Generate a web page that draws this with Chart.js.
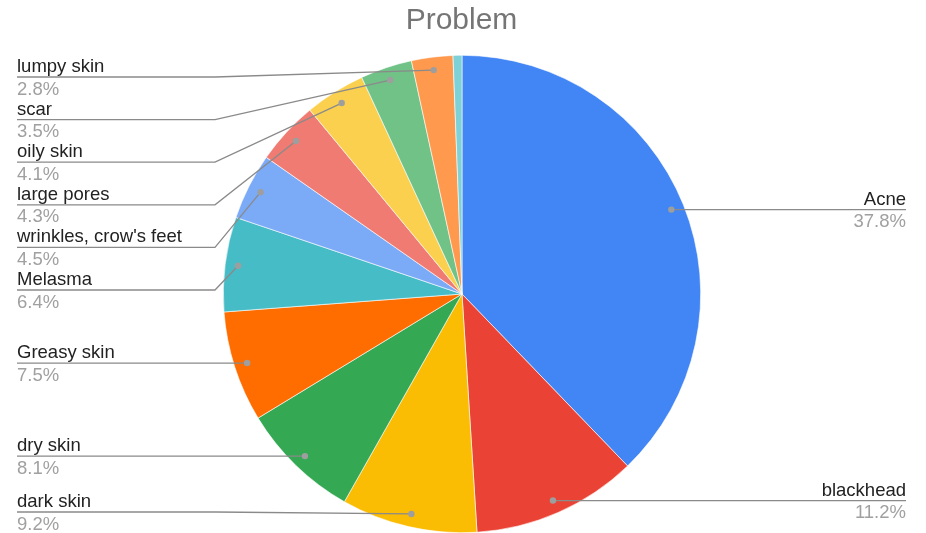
<!DOCTYPE html>
<html>
<head>
<meta charset="utf-8">
<script src="https://cdn.jsdelivr.net/npm/chart.js@4/dist/chart.umd.min.js"></script>
<style>
  html, body { margin: 0; padding: 0; background: #ffffff; }
  #wrap { width: 926px; height: 533px; position: relative; }
</style>
</head>
<body>
<div id="wrap"><canvas id="c" width="926" height="533"></canvas></div>
<script>
const categories = ["Acne", "blackhead", "dark skin", "dry skin", "Greasy skin", "Melasma",
  "wrinkles, crow's feet", "large pores", "oily skin", "scar", "lumpy skin", "other"];
const values = [37.8, 11.2, 9.2, 8.1, 7.5, 6.4, 4.5, 4.3, 4.1, 3.5, 2.8, 0.6];
const percentLabels = ["37.8%", "11.2%", "9.2%", "8.1%", "7.5%", "6.4%", "4.5%", "4.3%", "4.1%", "3.5%", "2.8%", ""];
const colors = ["#4285F4", "#EA4335", "#FBBC04", "#34A853", "#FF6D01", "#46BDC6",
  "#7BAAF7", "#F07B72", "#FCD04F", "#71C287", "#FF994D", "#7ED1D7"];
const chartTitle = "Problem";

const FONT = "'Liberation Sans', Arial, sans-serif";

const labelPlugin = {
  id: 'sideLabels',
  afterDraw(chart) {
    const ctx = chart.ctx;
    const meta = chart.getDatasetMeta(0);
    // title
    ctx.save();
    ctx.fillStyle = '#757575';
    ctx.font = '30px ' + FONT;
    ctx.textAlign = 'center';
    ctx.textBaseline = 'alphabetic';
    ctx.fillText(chartTitle, 461.5, 29);

    const left = [], right = [];
    meta.data.forEach((arc, i) => {
      if (!percentLabels[i]) return;
      const p = arc.getProps(['x', 'y', 'startAngle', 'endAngle', 'outerRadius'], true);
      const mid = (p.startAngle + p.endAngle) / 2;
      const r = p.outerRadius - 13;
      const ax = p.x + Math.cos(mid) * r;
      const ay = p.y + Math.sin(mid) * r;
      const item = { i, ax, ay };
      if (ax < p.x) left.push(item); else right.push(item);
    });

    function place(list, minY, maxY, gap) {
      list.sort((a, b) => a.ay - b.ay);
      let prev = -Infinity;
      list.forEach(it => {
        it.ly = Math.max(it.ay, prev + gap, minY);
        prev = it.ly;
      });
      let next = Infinity;
      for (let k = list.length - 1; k >= 0; k--) {
        const it = list[k];
        it.ly = Math.min(it.ly, maxY, next - gap);
        next = it.ly;
      }
    }
    place(left, 77, 512, 42.6);
    place(right, 77, 512, 42.6);

    const drawItem = (it, side) => {
      const textX = side === 'left' ? 17 : 906;
      const bendX = side === 'left' ? 215 : 712;
      ctx.strokeStyle = '#8a8a8a';
      ctx.lineWidth = 1.3;
      ctx.beginPath();
      ctx.moveTo(textX, it.ly);
      if (Math.abs(it.ly - it.ay) > 0.5) {
        ctx.lineTo(bendX, it.ly);
      }
      ctx.lineTo(it.ax, it.ay);
      ctx.stroke();
      ctx.fillStyle = '#9e9e9e';
      ctx.beginPath();
      ctx.arc(it.ax, it.ay, 3.2, 0, Math.PI * 2);
      ctx.fill();

      ctx.textAlign = side === 'left' ? 'left' : 'right';
      ctx.textBaseline = 'alphabetic';
      ctx.font = '18.5px ' + FONT;
      ctx.fillStyle = '#222222';
      ctx.fillText(categories[it.i], textX, it.ly - 5);
      ctx.fillStyle = '#a0a0a0';
      ctx.fillText(percentLabels[it.i], textX, it.ly + 17.5);
    };
    left.forEach(it => drawItem(it, 'left'));
    right.forEach(it => drawItem(it, 'right'));
    ctx.restore();
  }
};

new Chart(document.getElementById('c'), {
  type: 'pie',
  data: {
    labels: categories,
    datasets: [{
      data: values,
      backgroundColor: colors,
      borderColor: '#ffffff',
      borderWidth: 0.6
    }]
  },
  options: {
    responsive: false,
    animation: false,
    layout: { padding: { top: 55, bottom: 0, left: 223, right: 225 } },
    plugins: {
      legend: { display: false },
      tooltip: { enabled: false },
      title: { display: false }
    }
  },
  plugins: [labelPlugin]
});
</script>
</body>
</html>
